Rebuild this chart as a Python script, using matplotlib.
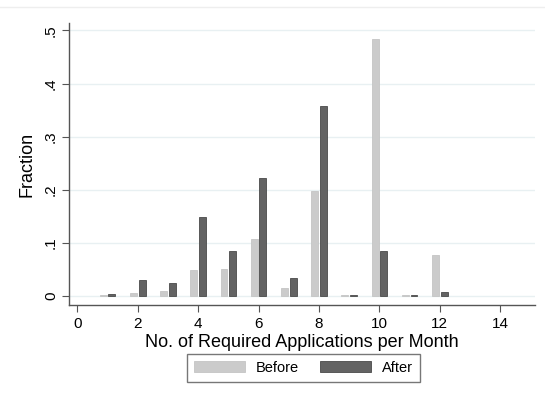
import matplotlib
matplotlib.use('Agg')
import matplotlib.pyplot as plt
import numpy as np

plt.rcParams['font.family'] = ['Liberation Sans', 'DejaVu Sans']

# required applications per month
apps = np.arange(1, 13)
before = [0.002, 0.006, 0.009, 0.049, 0.051, 0.107, 0.0145, 0.197, 0.002, 0.483, 0.001, 0.077]
after = [0.004, 0.030, 0.025, 0.148, 0.084, 0.222, 0.034, 0.358, 0.002, 0.084, 0.001, 0.008]
xticks = np.arange(0, 15, 2)
yticks = [0, 0.1, 0.2, 0.3, 0.4, 0.5]
ylabels = ['0', '.1', '.2', '.3', '.4', '.5']

fig = plt.figure(figsize=(5.45, 3.99), dpi=100)
ax = fig.add_axes([69/545, 1 - 305/399, (535 - 69)/545, (305 - 23)/399])

w = 0.23
ax.bar(apps - 0.145, before, width=w, color='#cbcbcb', edgecolor='#c4c4c4', linewidth=0.6, label='Before', zorder=3)
ax.bar(apps + 0.145, after, width=w, color='#636363', edgecolor='#4a4a4a', linewidth=0.6, label='After', zorder=3)

ax.set_xlim(-0.275, 15.15)
ax.set_ylim(-0.017, 0.514)
ax.set_xticks(xticks)
ax.set_yticks(yticks)
ax.set_yticklabels(ylabels, rotation=90, va='center')
ax.grid(axis='y', color='#e8f0f2', linewidth=1.0, zorder=0)
for s in ['top', 'right']:
    ax.spines[s].set_visible(False)
for s in ['left', 'bottom']:
    ax.spines[s].set_color('#555555')
    ax.spines[s].set_linewidth(1.0)
ax.tick_params(direction='out', length=5, color='#555555', labelsize=11)
ax.tick_params(axis='y', pad=3)
ax.set_ylabel('Fraction', fontsize=13, labelpad=6)
ax.set_xlabel('No. of Required Applications per Month', fontsize=13, labelpad=2)

leg = ax.legend(loc='upper center', bbox_to_anchor=(0.503, -0.172), ncol=2, frameon=True,
                fancybox=False, edgecolor='#555555', fontsize=10.5, handlelength=3.5,
                handleheight=0.75, columnspacing=1.4, handletextpad=0.75, borderpad=0.5,
                borderaxespad=0)
leg.get_frame().set_linewidth(1.0)

# faint outer border line at top
fig.add_artist(plt.Line2D([0, 1], [1 - 7/399, 1 - 7/399], color='#eeeeee', linewidth=1))

fig.savefig('out.png', dpi=100)
